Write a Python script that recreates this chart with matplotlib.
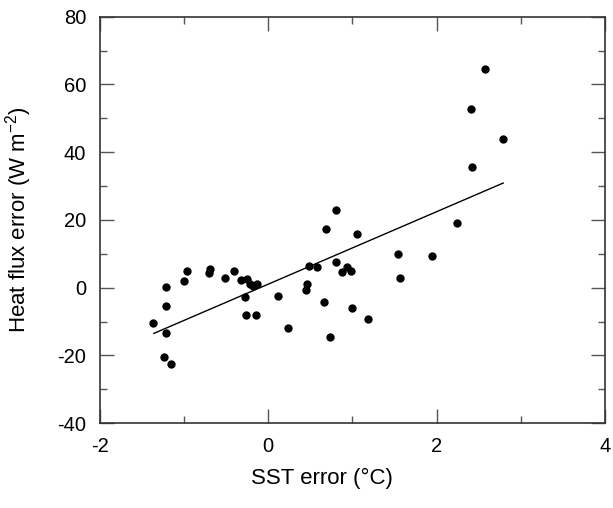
import matplotlib.pyplot as plt
from matplotlib.ticker import MultipleLocator

plt.rcParams['font.family'] = ['Liberation Sans', 'DejaVu Sans']
plt.rcParams['mathtext.default'] = 'regular'
plt.rcParams['axes.unicode_minus'] = False

# SST error (degC) vs heat flux error (W m-2)
sst_err = [-1.37, -1.21, -1.21, -1.21, -1.24, -1.16, -1.00, -0.97, -0.71, -0.69,
           -0.51, -0.41, -0.33, -0.25, -0.22, -0.18, -0.14, -0.28, -0.26, -0.15,
           0.11, 0.23, 0.80, 0.68, 1.05, 0.48, 0.58, 0.81, 0.94, 0.87,
           0.98, 0.46, 0.45, 0.66, 1.00, 1.19, 0.73, 1.54, 1.56, 1.94,
           2.24, 2.57, 2.41, 2.79, 2.42]
flux_err = [-10.5, -13.4, -5.3, 0.2, -20.5, -22.5, 2.1, 5.0, 4.3, 5.6,
            2.9, 4.9, 2.3, 2.5, 1.0, 0.5, 1.2, -2.6, -8.2, -8.2,
            -2.5, -12.0, 23.0, 17.2, 15.9, 6.3, 6.1, 7.5, 6.2, 4.7,
            4.9, 1.0, -0.7, -4.1, -6.0, -9.1, -14.7, 10.0, 3.0, 9.4,
            19.1, 64.7, 52.8, 43.9, 35.6]

# regression line endpoints
fit_x = [-1.36, 2.79]
fit_y = [-13.5, 30.9]

fig = plt.figure(figsize=(6.13, 5.08), dpi=100)
ax = fig.add_axes([0.163, 0.167, 0.824, 0.800])

ax.plot(sst_err, flux_err, 'o', color='black', markersize=6, markeredgewidth=0)
ax.plot(fit_x, fit_y, color='black', linewidth=1)

ax.set_xlim(-2, 4)
ax.set_ylim(-40, 80)
ax.xaxis.set_major_locator(MultipleLocator(2))
ax.xaxis.set_minor_locator(MultipleLocator(1))
ax.yaxis.set_major_locator(MultipleLocator(20))
ax.yaxis.set_minor_locator(MultipleLocator(10))
ax.tick_params(which='both', direction='in', top=True, right=True,
               color='#555555', width=1)
ax.tick_params(which='major', length=10, pad=10, labelsize=14.5)
ax.tick_params(which='minor', length=5)
for s in ax.spines.values():
  s.set_linewidth(1.2)
  s.set_color('#333333')

ax.set_xlabel('SST error (°C)', fontsize=16)
ax.set_ylabel('Heat flux error (W m$^{-2}$)', fontsize=16)
ax.xaxis.set_label_coords(0.44, -0.11)
ax.yaxis.set_label_coords(-0.13, 0.5)

fig.savefig('out.png', dpi=100)
